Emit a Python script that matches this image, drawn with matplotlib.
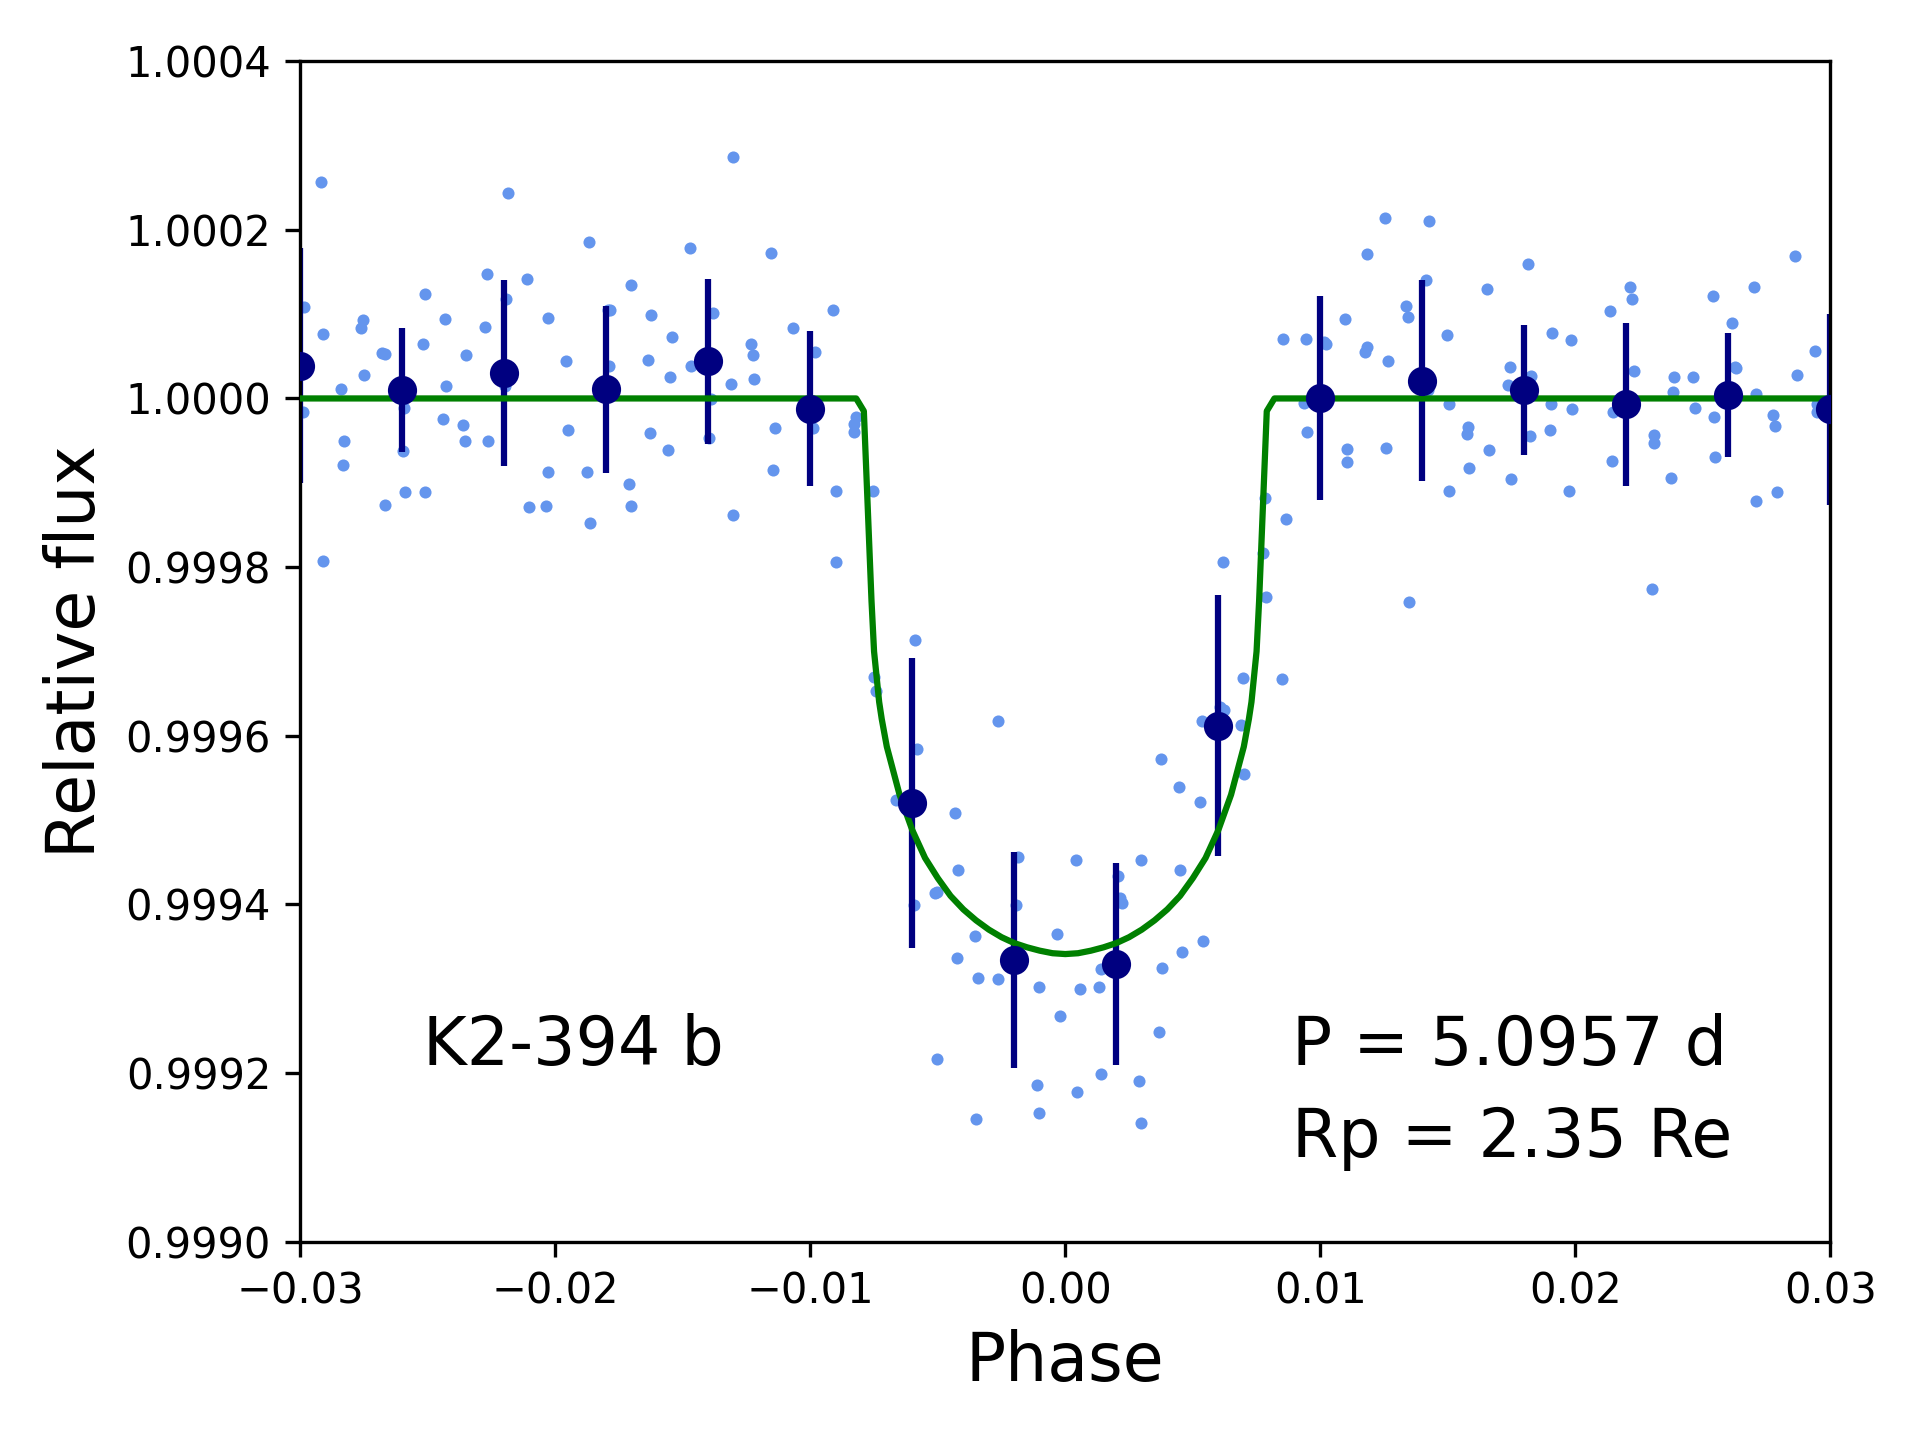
import matplotlib
matplotlib.use("Agg")
import matplotlib.pyplot as plt
from matplotlib.ticker import FormatStrFormatter

# unbinned photometry (phase, relative flux)
phase = [
    -0.02919, -0.02186, -0.01302, -0.01868, -0.01471, -0.01156, -0.02269, -0.02112, -0.01702, -0.02986,
    -0.02510, -0.02192, -0.02754, -0.02762, -0.02431, -0.02277, -0.02027, -0.01795, -0.01785, -0.01624,
    -0.01380, -0.02911, -0.01543, -0.01069, -0.02680, -0.02667, -0.02518, -0.02349, -0.01234, -0.01226,
    -0.00981, -0.01959, -0.01790, -0.01636, -0.02749, -0.01549, -0.01467, -0.01310, -0.01222, -0.02839,
    -0.02427, -0.02198, -0.01388, -0.02990, -0.02592, -0.02439, -0.02361, -0.02353, -0.02265, -0.02829,
    -0.02831, -0.02599, -0.01950, -0.01628, -0.01557, -0.01396, -0.01140, -0.00991, -0.02029, -0.01876,
    -0.01710, -0.01148, -0.02667, -0.02588, -0.02510, -0.02104, -0.02036, -0.01702, -0.01864, -0.01302,
    -0.02911,
    -0.00910, -0.00821, -0.00828, -0.00830, -0.00900, -0.00754, -0.00900,
    0.00852, 0.00943, 0.01014, 0.01024, 0.00935, 0.00947, 0.00782, 0.00864, 0.00774, 0.00620, 0.00787,
    -0.00588, -0.00749, -0.00741, -0.00263, -0.00580, -0.00664, -0.00433, -0.00184, 0.00042, -0.00420,
    -0.00511, -0.00502, -0.00592, -0.00192, -0.00353, -0.00031, -0.00424, -0.00341, -0.00263, -0.00102,
    0.00058, -0.00020, -0.00502, -0.00110, 0.00045, -0.00349, -0.00102,
    0.00298, 0.00451, 0.00208, 0.00215, 0.00221, 0.00541, 0.00459, 0.00380, 0.00139, 0.00131,
    0.00369, 0.00141, 0.00290, 0.00298,
    0.00697, 0.00851, 0.00608, 0.00621, 0.00536, 0.00689, 0.00376, 0.00699, 0.00447, 0.00529,
    0.01253, 0.01426, 0.01182, 0.01814, 0.02861, 0.01414, 0.01654, 0.02215, 0.02701, 0.02222,
    0.02541, 0.01335, 0.01343, 0.02136, 0.01095, 0.02615, 0.01497, 0.01908, 0.01982, 0.02939,
    0.01182, 0.01174, 0.01264, 0.01743, 0.01826, 0.01735, 0.02230, 0.02388, 0.02462, 0.02626,
    0.02632, 0.02869, 0.02382, 0.02709, 0.01422, 0.01504, 0.01904, 0.01986, 0.02147, 0.02469,
    0.02543, 0.02776, 0.02782, 0.02946, 0.02949, 0.01581, 0.01576, 0.01899, 0.01822, 0.02308,
    0.02308, 0.01103, 0.01103, 0.01259, 0.01661, 0.01585, 0.01746, 0.02143, 0.02547, 0.02374,
    0.01504, 0.01976, 0.02709, 0.02790, 0.02300, 0.01346,
]
flux = [
    1.000257, 1.000244, 1.000286, 1.000186, 1.000179, 1.000173, 1.000148, 1.000142, 1.000135, 1.000109,
    1.000124, 1.000118, 1.000093, 1.000083, 1.000094, 1.000085, 1.000096, 1.000105, 1.000105, 1.000099,
    1.000101, 1.000076, 1.000073, 1.000084, 1.000054, 1.000053, 1.000064, 1.000051, 1.000065, 1.000051,
    1.000055, 1.000045, 1.000039, 1.000046, 1.000028, 1.000025, 1.000038, 1.000017, 1.000023, 1.000011,
    1.000015, 1.000015, 0.999999, 0.999984, 0.999989, 0.999976, 0.999968, 0.999949, 0.999949, 0.999950,
    0.999921, 0.999938, 0.999963, 0.999959, 0.999939, 0.999953, 0.999965, 0.999965, 0.999913, 0.999913,
    0.999899, 0.999915, 0.999874, 0.999889, 0.999889, 0.999871, 0.999872, 0.999872, 0.999852, 0.999862,
    0.999807,
    1.000105, 0.999978, 0.999970, 0.999960, 0.999890, 0.999890, 0.999806,
    1.000071, 1.000071, 1.000067, 1.000064, 0.999995, 0.999960, 0.999882, 0.999857, 0.999817, 0.999806, 0.999764,
    0.999713, 0.999670, 0.999653, 0.999617, 0.999584, 0.999524, 0.999508, 0.999456, 0.999453, 0.999441,
    0.999413, 0.999415, 0.999399, 0.999399, 0.999363, 0.999365, 0.999336, 0.999313, 0.999311, 0.999302,
    0.999299, 0.999268, 0.999217, 0.999186, 0.999177, 0.999145, 0.999152,
    0.999452, 0.999441, 0.999434, 0.999407, 0.999401, 0.999357, 0.999344, 0.999325, 0.999323, 0.999302,
    0.999249, 0.999199, 0.999190, 0.999141,
    0.999668, 0.999667, 0.999634, 0.999630, 0.999617, 0.999613, 0.999572, 0.999554, 0.999539, 0.999521,
    1.000214, 1.000210, 1.000171, 1.000159, 1.000169, 1.000140, 1.000130, 1.000132, 1.000132, 1.000118,
    1.000122, 1.000110, 1.000097, 1.000104, 1.000094, 1.000090, 1.000075, 1.000078, 1.000069, 1.000056,
    1.000061, 1.000055, 1.000044, 1.000037, 1.000027, 1.000016, 1.000033, 1.000026, 1.000026, 1.000037,
    1.000036, 1.000028, 1.000008, 1.000005, 1.000010, 0.999993, 0.999993, 0.999988, 0.999984, 0.999989,
    0.999978, 0.999980, 0.999967, 0.999993, 0.999984, 0.999966, 0.999958, 0.999962, 0.999955, 0.999957,
    0.999947, 0.999940, 0.999925, 0.999941, 0.999939, 0.999917, 0.999904, 0.999926, 0.999930, 0.999906,
    0.999890, 0.999890, 0.999878, 0.999889, 0.999774, 0.999759,
]

# binned points
bin_phase = [-0.030, -0.026, -0.022, -0.018, -0.014, -0.010, -0.006, -0.002,
             0.002, 0.006, 0.010, 0.014, 0.018, 0.022, 0.026, 0.030]
bin_flux = [1.000039, 1.000010, 1.000030, 1.000011, 1.000044, 0.999988, 0.999520, 0.999334,
            0.999329, 0.999612, 1.000000, 1.000021, 1.000010, 0.999993, 1.000004, 0.999987]
bin_err = [0.000139, 0.000074, 0.000110, 0.000099, 0.000098, 0.000092, 0.000172, 0.000128,
           0.000120, 0.000155, 0.000121, 0.000119, 0.000077, 0.000097, 0.000074, 0.000113]

# transit model
model_phase = [-0.030, -0.0082, -0.0079, -0.0076, -0.0075, -0.0073, -0.0072, -0.0070, -0.0065,
               -0.0060, -0.0055, -0.0050, -0.0045, -0.0040, -0.0035, -0.0030, -0.0025, -0.0020,
               -0.0015, -0.0010, -0.0005, 0.0, 0.0005, 0.0010, 0.0015, 0.0020, 0.0025, 0.0030,
               0.0035, 0.0040, 0.0045, 0.0050, 0.0055, 0.0060, 0.0065, 0.0070, 0.0072, 0.0073,
               0.0075, 0.0076, 0.0079, 0.0082, 0.030]
model_flux = [1.0, 1.0, 0.999985, 0.999760, 0.999700, 0.999640, 0.999620, 0.999587, 0.999530,
              0.999488, 0.999455, 0.999431, 0.999410, 0.999394, 0.999381, 0.999370, 0.999361, 0.999354,
              0.999349, 0.999345, 0.999342, 0.999341, 0.999342, 0.999345, 0.999349, 0.999354, 0.999361,
              0.999370, 0.999381, 0.999394, 0.999410, 0.999431, 0.999455, 0.999488, 0.999530, 0.999587,
              0.999620, 0.999640, 0.999700, 0.999760, 0.999985, 1.0, 1.0]

fig = plt.figure(figsize=(6.4, 4.8), dpi=300)
ax = fig.add_axes([0.1564, 0.1378, 0.7969, 0.8197])

ax.plot(phase, flux, 'o', color='cornflowerblue', markersize=2.9, markeredgewidth=0, zorder=1)
ax.errorbar(bin_phase, bin_flux, yerr=bin_err, fmt='none', ecolor='navy', elinewidth=1.5, zorder=2)
ax.plot(model_phase, model_flux, color='green', lw=1.5, zorder=3)
ax.plot(bin_phase, bin_flux, 'o', color='navy', markersize=6, zorder=4)

ax.set_xlim(-0.03, 0.03)
ax.set_ylim(0.9990, 1.0004)
ax.set_xticks([-0.03, -0.02, -0.01, 0.0, 0.01, 0.02, 0.03])
ax.set_yticks([0.9990, 0.9992, 0.9994, 0.9996, 0.9998, 1.0000, 1.0002, 1.0004])
ax.yaxis.set_major_formatter(FormatStrFormatter('%.4f'))
ax.tick_params(labelsize=10)

ax.set_xlabel('Phase', fontsize=16)
ax.set_ylabel('Relative flux', fontsize=16)

ax.text(-0.0252, 0.99921, 'K2-394 b', fontsize=16)
ax.text(0.0089, 0.99921, 'P = 5.0957 d', fontsize=16)
ax.text(0.0089, 0.99910, 'Rp = 2.35 Re', fontsize=16)

plt.savefig('out.png', dpi=300)
